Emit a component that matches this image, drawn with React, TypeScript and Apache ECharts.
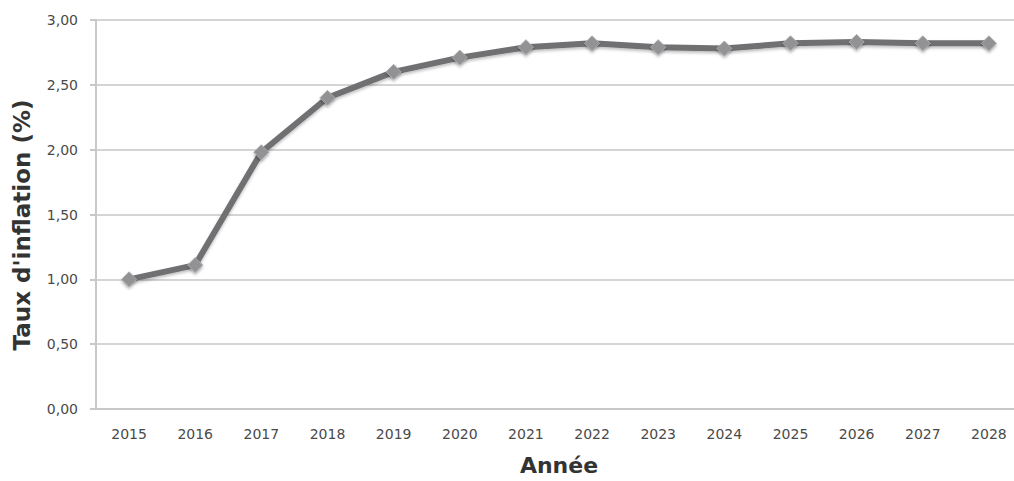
import React, { useEffect, useRef } from "react";
import * as echarts from "echarts";

const years = ["2015", "2016", "2017", "2018", "2019", "2020", "2021", "2022", "2023", "2024", "2025", "2026", "2027", "2028"];
const inflation = [1.0, 1.11, 1.98, 2.4, 2.6, 2.71, 2.79, 2.82, 2.79, 2.78, 2.82, 2.83, 2.82, 2.82];
const yTitle = "Taux d'inflation (%)";
const xTitle = "Année";

export default function App() {
  const ref = useRef<HTMLDivElement>(null);
  useEffect(() => {
    document.body.style.margin = "0";
    document.body.style.overflow = "hidden";
    const chart = echarts.init(ref.current!, null, { renderer: "svg" });
    const font = "'DejaVu Sans', Verdana, sans-serif";
    chart.setOption({
      animation: false,
      backgroundColor: "#ffffff",
      grid: { left: 96, width: 926, top: 20, height: 392 },
      graphic: [
        {
          type: "text",
          x: 22,
          y: 225,
          rotation: Math.PI / 2,
          style: {
            text: yTitle,
            fontFamily: font,
            fontSize: 23,
            fontWeight: "bold",
            fill: "#333333",
            textAlign: "center",
            textVerticalAlign: "middle",
          },
        },
      ],
      xAxis: {
        type: "category",
        data: years,
        boundaryGap: true,
        name: xTitle,
        nameLocation: "middle",
        nameGap: 45,
        nameTextStyle: { fontFamily: font, fontSize: 22, fontWeight: "bold", color: "#333333" },
        axisLine: { lineStyle: { color: "#c8c8c8", width: 2 } },
        axisTick: { show: false },
        axisLabel: { fontFamily: font, fontSize: 14, color: "#4a4a4a", margin: 18 },
        splitLine: { show: false },
      },
      yAxis: {
        type: "value",
        min: 0,
        max: 3,
        interval: 0.5,
        axisLine: { show: true, lineStyle: { color: "#c8c8c8", width: 2 } },
        axisTick: { show: true, length: 6, lineStyle: { color: "#c8c8c8", width: 2 } },
        axisLabel: {
          fontFamily: font,
          fontSize: 14,
          color: "#4a4a4a",
          margin: 18,
          formatter: (v: number) => v.toFixed(2).replace(".", ","),
        },
        splitLine: { show: true, lineStyle: { color: "#d4d4d4", width: 2 } },
      },
      series: [
        {
          type: "line",
          data: inflation,
          symbol: "diamond",
          symbolSize: 15,
          lineStyle: { color: "#6f6f72", width: 6, shadowColor: "rgba(0,0,0,0.25)", shadowBlur: 3, shadowOffsetY: 2 },
          itemStyle: { color: "#929294", borderColor: "#ababad", borderWidth: 1, shadowColor: "rgba(0,0,0,0.3)", shadowBlur: 3, shadowOffsetY: 2 },
        },
      ],
    });
    return () => chart.dispose();
  }, []);
  return <div ref={ref} style={{ width: 1022, height: 481 }} />;
}
